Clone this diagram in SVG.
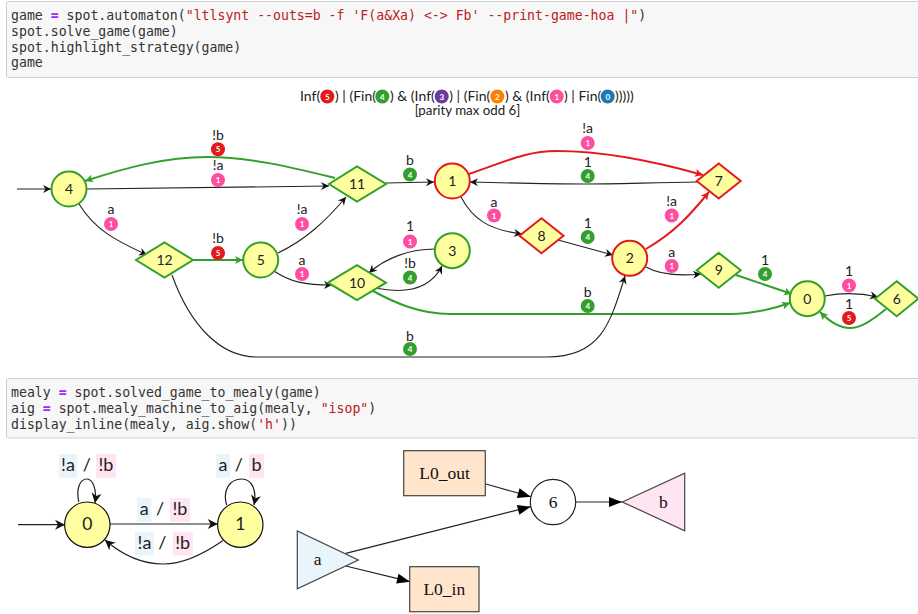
<svg xmlns="http://www.w3.org/2000/svg" width="918" height="614" viewBox="0 0 918 614">
<style>
.cell{fill:#f7f7f7;stroke:#cfcfcf;stroke-width:1}
.code{font:13.2px "DejaVu Sans Mono",monospace;fill:#333;white-space:pre}
.op{fill:#aa22ff;font-weight:bold}
.str{fill:#ba2121}
.t{font:14px Lato,sans-serif;fill:#222;text-anchor:middle}
.tl{font:14px Lato,sans-serif;fill:#222}
.sub{font:13.3px Lato,sans-serif;fill:#222;text-anchor:middle}
.n{font:14px Lato,sans-serif;fill:#222;text-anchor:middle}
.bt{font:bold 8px Lato,sans-serif;fill:#fff;text-anchor:middle}
.g{fill:#ffffa0;stroke:#33a02c;stroke-width:2}
.r{fill:#ffffa0;stroke:#e31a1c;stroke-width:2}
.k{fill:none;stroke:#222;stroke-width:1.1;marker-end:url(#ak)}
.eg{fill:none;stroke:#33a02c;stroke-width:2;marker-end:url(#ag)}
.er{fill:none;stroke:#e31a1c;stroke-width:2;marker-end:url(#ar)}
.c0{fill:#1f78b4}.c1{fill:#ff4da0}.c2{fill:#ff7f00}.c3{fill:#6a3d9a}.c4{fill:#33a02c}.c5{fill:#e31a1c}
.m{fill:#ffffa0;stroke:#111;stroke-width:1.2}
.mt{font:18px Lato,sans-serif;fill:#222;text-anchor:middle}
.md{font:17.5px Lato,sans-serif;fill:#222;text-anchor:middle}
.mk{fill:none;stroke:#222;stroke-width:1.2;marker-end:url(#ak2)}
.in{fill:#e9f4fb}.out{fill:#ffe5f1}
.s{font:17.5px "Liberation Serif",serif;fill:#111;text-anchor:middle}
.aig{stroke:#444;stroke-width:1.2}
.ak{fill:none;stroke:#222;stroke-width:1.2;marker-end:url(#at)}
</style>
<defs>
<marker id="ak" markerUnits="userSpaceOnUse" markerWidth="10" markerHeight="10" refX="8" refY="5" orient="auto" overflow="visible"><path d="M0 1L8 5L0 9L2.5 5z" fill="#111"/></marker>
<marker id="ag" markerUnits="userSpaceOnUse" markerWidth="10" markerHeight="10" refX="8" refY="5" orient="auto" overflow="visible"><path d="M0 1L8 5L0 9L2 5z" fill="#33a02c"/></marker>
<marker id="ar" markerUnits="userSpaceOnUse" markerWidth="10" markerHeight="10" refX="8" refY="5" orient="auto" overflow="visible"><path d="M0 1L8 5L0 9L2 5z" fill="#e31a1c"/></marker>
<marker id="ak2" markerUnits="userSpaceOnUse" markerWidth="12" markerHeight="12" refX="10" refY="6" orient="auto" overflow="visible"><path d="M0 1L10 6L0 11L3 6z" fill="#111"/></marker>
<marker id="at" markerUnits="userSpaceOnUse" markerWidth="14" markerHeight="12" refX="13" refY="6" orient="auto" overflow="visible"><path d="M0 1L13 6L0 11z" fill="#000"/></marker>
</defs>
<rect width="918" height="614" fill="#fff"/>

<g id="cell1">
<rect class="cell" x="6.5" y="1.5" width="920" height="76" rx="2"/>
<text class="code" x="11" y="20">game <tspan class="op">=</tspan> spot.automaton(<tspan class="str">"ltlsynt --outs=b -f 'F(a&amp;Xa) &lt;-&gt; Fb' --print-game-hoa |"</tspan>)</text>
<text class="code" x="11" y="36">spot.solve_game(game)</text>
<text class="code" x="11" y="52">spot.highlight_strategy(game)</text>
<text class="code" x="11" y="67">game</text>
</g>

<g id="acceptance">
<text class="tl" x="300" y="101">Inf(</text>
<circle class="c5" cx="327.3" cy="96.5" r="7"/><text class="bt" x="327.3" y="99.5">5</text>
<text class="tl" x="335" y="101">) | (Fin(</text>
<circle class="c4" cx="382.3" cy="96.5" r="7"/><text class="bt" x="382.3" y="99.5">4</text>
<text class="tl" x="390" y="101">) &amp; (Inf(</text>
<circle class="c3" cx="441.7" cy="96.5" r="7"/><text class="bt" x="441.7" y="99.5">3</text>
<text class="tl" x="449.3" y="101">) | (Fin(</text>
<circle class="c2" cx="497.3" cy="96.5" r="7"/><text class="bt" x="497.3" y="99.5">2</text>
<text class="tl" x="505" y="101">) &amp; (Inf(</text>
<circle class="c1" cx="556.7" cy="96.5" r="7"/><text class="bt" x="556.7" y="99.5">1</text>
<text class="tl" x="564" y="101">) | Fin(</text>
<circle class="c0" cx="607.7" cy="96.5" r="7"/><text class="bt" x="607.7" y="99.5">0</text>
<text class="tl" x="615" y="101">)))))</text>
<text class="sub" x="467.5" y="114.5">[parity max odd 6]</text>
</g>

<g id="game-connectors">
<path class="k" d="M17 189H51"/>
<path class="k" d="M87 189L329 186"/>
<path class="eg" d="M335 178C290 167 250 157 207 157C165 157 125 168 85 181"/>
<path class="k" d="M386 183L434 182"/>
<path class="k" d="M79 204C95 230 115 240 147 255"/>
<path class="eg" d="M193 260H243"/>
<path class="k" d="M278 253C305 240 325 222 346 197"/>
<path class="k" d="M274 271C290 282 305 285 332 285"/>
<path class="k" d="M375 288C405 294 430 290 442 266"/>
<path class="k" d="M435 249C410 249 385 258 369 273"/>
<path class="eg" d="M373 291C395 303 420 314 450 314H730C752 314 770 310 790 303"/>
<path class="k" d="M172 275C190 325 220 357 257 357H547C600 357 610 325 625 276"/>
<path class="k" d="M461 197C473 220 490 230 522 234"/>
<path class="k" d="M558 240L613 255"/>
<path class="er" d="M469 174C505 162 525 151 557 151C600 151 650 160 703 175"/>
<path class="k" d="M698 182C640 183 610 184 583 184C550 184 510 183 470 182"/>
<path class="er" d="M646 249C675 232 690 215 709 192"/>
<path class="k" d="M646 267C660 275 680 276 701 274"/>
<path class="eg" d="M736 275L792 294"/>
<path class="k" d="M825 296C845 292 860 293 878 297"/>
<path class="eg" d="M886 309C870 322 860 328 850 328C840 328 830 322 820 312"/>

<text class="t" x="218" y="140">!b</text><circle class="c5" cx="218" cy="149.3" r="7"/><text class="bt" x="218" y="152">5</text>
<text class="t" x="218" y="170">!a</text><circle class="c1" cx="218" cy="180" r="7"/><text class="bt" x="218" y="183">1</text>
<text class="t" x="410" y="165">b</text><circle class="c4" cx="410" cy="174.5" r="7"/><text class="bt" x="410" y="177.5">4</text>
<text class="t" x="111" y="214">a</text><circle class="c1" cx="111" cy="224" r="7"/><text class="bt" x="111" y="227">1</text>
<text class="t" x="302" y="214">!a</text><circle class="c1" cx="302" cy="224" r="7"/><text class="bt" x="302" y="227">1</text>
<text class="t" x="218" y="243">!b</text><circle class="c5" cx="218" cy="253" r="7"/><text class="bt" x="218" y="256">5</text>
<text class="t" x="410" y="231">1</text><circle class="c1" cx="410" cy="241.5" r="7"/><text class="bt" x="410" y="244.5">1</text>
<text class="t" x="302" y="265">a</text><circle class="c1" cx="302" cy="274" r="7"/><text class="bt" x="302" y="277">1</text>
<text class="t" x="410" y="268">!b</text><circle class="c4" cx="410" cy="277.5" r="7"/><text class="bt" x="410" y="280.5">4</text>
<text class="t" x="410" y="341">b</text><circle class="c4" cx="410" cy="349" r="7"/><text class="bt" x="410" y="352">4</text>
<text class="t" x="587.7" y="133">!a</text><circle class="c1" cx="587.7" cy="143" r="7"/><text class="bt" x="587.7" y="146">1</text>
<text class="t" x="587.7" y="167">1</text><circle class="c4" cx="587.7" cy="176" r="7"/><text class="bt" x="587.7" y="179">4</text>
<text class="t" x="494" y="207">a</text><circle class="c1" cx="494" cy="215.5" r="7"/><text class="bt" x="494" y="218.5">1</text>
<text class="t" x="587.7" y="228">1</text><circle class="c4" cx="587.7" cy="237" r="7"/><text class="bt" x="587.7" y="240">4</text>
<text class="t" x="671.7" y="206">!a</text><circle class="c1" cx="671.7" cy="215.5" r="7"/><text class="bt" x="671.7" y="218.5">1</text>
<text class="t" x="671.7" y="257">a</text><circle class="c1" cx="671.7" cy="266" r="7"/><text class="bt" x="671.7" y="269">1</text>
<text class="t" x="765" y="265">1</text><circle class="c4" cx="765" cy="274" r="7"/><text class="bt" x="765" y="277">4</text>
<text class="t" x="587.7" y="297">b</text><circle class="c4" cx="587.7" cy="306" r="7"/><text class="bt" x="587.7" y="309">4</text>
<text class="t" x="849" y="276">1</text><circle class="c1" cx="849" cy="285.5" r="7"/><text class="bt" x="849" y="288.5">1</text>
<text class="t" x="849" y="309">1</text><circle class="c5" cx="849" cy="318" r="7"/><text class="bt" x="849" y="321">5</text>
</g>

<g id="n4"><circle class="g" cx="69" cy="189" r="17.5"/><text class="n" x="69" y="194">4</text></g>
<g id="n5"><circle class="g" cx="260.7" cy="260" r="17.5"/><text class="n" x="260.7" y="265">5</text></g>
<g id="n3"><circle class="g" cx="452.3" cy="250.7" r="17.5"/><text class="n" x="452.3" y="255.7">3</text></g>
<g id="n1"><circle class="r" cx="452.3" cy="181" r="17.5"/><text class="n" x="452.3" y="186">1</text></g>
<g id="n2"><circle class="r" cx="629.7" cy="258.3" r="17.5"/><text class="n" x="629.7" y="263.3">2</text></g>
<g id="n0"><circle class="g" cx="807.3" cy="298.7" r="17.5"/><text class="n" x="807.3" y="303.7">0</text></g>
<g id="n11"><polygon class="g" points="329,184 357,166.5 386,184 357,201.5"/><text class="n" x="357" y="189">11</text></g>
<g id="n12"><polygon class="g" points="136,260 164.5,242.5 193,260 164.5,277.5"/><text class="n" x="164.5" y="265">12</text></g>
<g id="n10"><polygon class="g" points="328,282.7 357,265.2 386,282.7 357,300.2"/><text class="n" x="357" y="287.7">10</text></g>
<g id="n8"><polygon class="r" points="519.5,235.7 541.5,218.2 563.5,235.7 541.5,253.2"/><text class="n" x="541.5" y="240.7">8</text></g>
<g id="n7"><polygon class="r" points="696.7,181 718.7,163.5 740.7,181 718.7,198.5"/><text class="n" x="718.7" y="186">7</text></g>
<g id="n9"><polygon class="g" points="696.7,270.3 718.7,252.8 740.7,270.3 718.7,287.8"/><text class="n" x="718.7" y="275.3">9</text></g>
<g id="n6"><polygon class="g" points="875,298.7 896.7,281.2 918.4,298.7 896.7,316.2"/><text class="n" x="896.7" y="303.7">6</text></g>

<g id="cell2">
<rect class="cell" x="6.5" y="378.5" width="920" height="59.5" rx="2"/>
<text class="code" x="11" y="396.5">mealy <tspan class="op">=</tspan> spot.solved_game_to_mealy(game)</text>
<text class="code" x="11" y="413">aig <tspan class="op">=</tspan> spot.mealy_machine_to_aig(mealy, <tspan class="str">"isop"</tspan>)</text>
<text class="code" x="11" y="429">display_inline(mealy, aig.show(<tspan class="str">'h'</tspan>))</text>
</g>

<g id="mealy-connectors">
<path class="mk" d="M18 524.7H65"/>
<path class="mk" d="M78.7 502C76 488 80 479 87 479C93 479 97 490 95 503"/>
<path class="mk" d="M226.7 505C222 490 230 479 241.7 479C252 479 257 490 254 505"/>
<path class="mk" d="M110 524H217.7"/>
<path class="mk" d="M222.7 540.7C205 553 185 564 163.3 564C140 564 120 553 105 540"/>
<rect class="in" x="58.7" y="454" width="18.6" height="23.7"/><text class="mt" x="68" y="471">!a</text><text class="mt" x="86.7" y="471">/</text><rect class="out" x="96" y="454" width="20" height="23.7"/><text class="mt" x="106" y="471">!b</text>
<rect class="in" x="216.3" y="454" width="13.7" height="23.7"/><text class="mt" x="223" y="471">a</text><text class="mt" x="238.7" y="471">/</text><rect class="out" x="249" y="454" width="15" height="23.7"/><text class="mt" x="256.5" y="471">b</text>
<rect class="in" x="137.3" y="498" width="14" height="23.7"/><text class="mt" x="144.3" y="515">a</text><text class="mt" x="160" y="515">/</text><rect class="out" x="170" y="498" width="20" height="23.7"/><text class="mt" x="180" y="515">!b</text>
<rect class="in" x="135" y="531.7" width="19" height="23.7"/><text class="mt" x="144.5" y="548.5">!a</text><text class="mt" x="162.3" y="548.5">/</text><rect class="out" x="172.7" y="531.7" width="20" height="23.7"/><text class="mt" x="182.7" y="548.5">!b</text>
</g>
<g id="m0"><circle class="m" cx="87.3" cy="524.7" r="22.7"/><text class="md" x="87.3" y="530">0</text></g>
<g id="m1"><circle class="m" cx="240.3" cy="524.7" r="22.7"/><text class="md" x="240.3" y="530">1</text></g>

<g id="aig-connectors">
<path class="ak" d="M486 484L530.7 496.7"/>
<path class="ak" d="M345.7 553.3L530.7 506.7"/>
<path class="ak" d="M345.7 566L410 581.7"/>
<path class="ak" d="M576 502H622"/>
</g>
<g id="L0_out"><rect x="403.7" y="450.7" width="81.6" height="45" fill="#ffe5cc" class="aig"/><text class="s" x="444.5" y="478.7">L0_out</text></g>
<g id="L0_in"><rect x="409.7" y="566.7" width="69.3" height="45" fill="#ffe5cc" class="aig"/><text class="s" x="444.3" y="594.5">L0_in</text></g>
<g id="g6"><circle cx="553" cy="502" r="22.7" fill="#fff" stroke="#222" stroke-width="1.2"/><text class="s" x="553" y="508">6</text></g>
<g id="out-b"><polygon class="out aig" points="622.3,502 684.7,473.3 684.7,530.7"/><text class="s" x="663.3" y="507.7">b</text></g>
<g id="in-a"><polygon class="in aig" points="297.3,531 297.3,588.7 358.3,560"/><text class="s" x="317.7" y="565">a</text></g>
</svg>
